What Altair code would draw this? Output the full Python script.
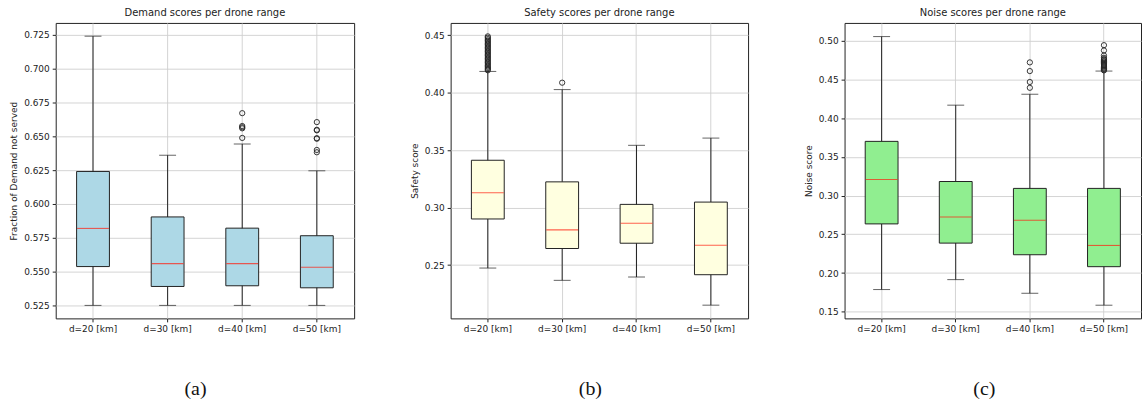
import altair as alt
import pandas as pd

categories = ["d=20 [km]", "d=30 [km]", "d=40 [km]", "d=50 [km]"]

# Demand: fraction of demand not served
demand_low = [0.525, 0.525, 0.525, 0.525]
demand_q1 = [0.5537, 0.5390, 0.5395, 0.5380]
demand_median = [0.5819, 0.5559, 0.5559, 0.5532]
demand_q3 = [0.6240, 0.5904, 0.5821, 0.5765]
demand_high = [0.7240, 0.6360, 0.6443, 0.6245]
demand_outliers = [
    [],
    [],
    [0.6488, 0.6559, 0.6567, 0.6576, 0.6671],
    [0.6382, 0.6399, 0.6482, 0.6486, 0.6544, 0.6548, 0.6605],
]

# Safety score
safety_low = [0.2474, 0.2367, 0.2396, 0.2151]
safety_q1 = [0.2901, 0.2644, 0.2690, 0.2416]
safety_median = [0.3129, 0.2806, 0.2864, 0.2673]
safety_q3 = [0.3412, 0.3224, 0.3028, 0.3048]
safety_high = [0.4185, 0.4027, 0.3542, 0.3605]
safety_outliers = [
    [0.4195, 0.4205, 0.4215, 0.4226, 0.4238, 0.4250, 0.4262, 0.4274, 0.4286,
     0.4298, 0.4310, 0.4322, 0.4334, 0.4346, 0.4358, 0.4370, 0.4382, 0.4394,
     0.4406, 0.4418, 0.4430, 0.4442, 0.4454, 0.4466, 0.4478, 0.4490],
    [0.4087],
    [],
    [],
]

# Noise score
noise_low = [0.1787, 0.1915, 0.1739, 0.1585]
noise_q1 = [0.2634, 0.2386, 0.2236, 0.2082]
noise_median = [0.3207, 0.2724, 0.2681, 0.2356]
noise_q3 = [0.3699, 0.3181, 0.3092, 0.3092]
noise_high = [0.5051, 0.4166, 0.4307, 0.4606]
noise_outliers = [
    [],
    [],
    [0.4390, 0.4465, 0.4606, 0.4718],
    [0.4615, 0.4625, 0.4640, 0.4655, 0.4670, 0.4685, 0.4700, 0.4715, 0.4730,
     0.4745, 0.4760, 0.4777, 0.4807, 0.4872, 0.4940],
]

FONT = "DejaVu Sans"
BOX_WIDTH = 33
CAP_WIDTH = 17


def box_panel(title, ytitle, low, q1, med, q3, high, outliers, fill,
              domain, ticks, fmt, caption, width):
    stats = pd.DataFrame({"cat": categories, "low": low, "q1": q1,
                          "med": med, "q3": q3, "high": high})
    out_rows = [(c, v) for c, vals in zip(categories, outliers) for v in vals]
    out_df = pd.DataFrame(out_rows, columns=["cat", "val"])

    x = alt.X(
        "cat:N", sort=categories, title=caption,
        scale=alt.Scale(paddingInner=0, paddingOuter=0),
        axis=alt.Axis(labelAngle=0, bandPosition=0.5, grid=True,
                      gridColor="#cfcfcf", gridWidth=0.9,
                      tickColor="#222", tickSize=3.5, labelPadding=3,
                      labelFont=FONT, labelFontSize=9, labelColor="#222",
                      domain=False,
                      titleFont="Liberation Serif", titleFontSize=20,
                      titleFontWeight="normal", titleColor="#111",
                      titleX=140, titleY=61, titleAlign="center",
                      titleBaseline="top", titleAnchor=None),
    )
    yscale = alt.Scale(domain=domain, nice=False, zero=False)
    yaxis = alt.Axis(values=ticks, format=fmt, grid=True, labelOverlap=False,
                     tickCount=len(ticks),
                     gridColor="#cfcfcf", gridWidth=0.9,
                     tickColor="#222", tickSize=3.5, labelPadding=3,
                     labelFont=FONT, labelFontSize=9, labelColor="#222",
                     domain=False, title=ytitle, titleFont=FONT,
                     titleFontSize=9, titleFontWeight="normal",
                     titleColor="#222", titlePadding=5)

    base = alt.Chart(stats)
    whisker = base.mark_rule(color="#222", strokeWidth=1).encode(
        x=x, y=alt.Y("low:Q", scale=yscale, axis=yaxis), y2="high:Q")
    caps_low = base.mark_tick(color="#222", size=CAP_WIDTH, thickness=1).encode(
        x=x, y=alt.Y("low:Q", axis=yaxis))
    caps_high = base.mark_tick(color="#222", size=CAP_WIDTH, thickness=1).encode(
        x=x, y=alt.Y("high:Q", axis=yaxis))
    box = base.mark_bar(size=BOX_WIDTH, fill=fill, stroke="#222",
                        strokeWidth=1).encode(
        x=x, y=alt.Y("q1:Q", axis=yaxis), y2="q3:Q")
    median = base.mark_tick(color="#ff2010", size=BOX_WIDTH - 1,
                            thickness=1.1).encode(
        x=x, y=alt.Y("med:Q", axis=yaxis))
    fliers = alt.Chart(out_df).mark_point(
        shape="circle", filled=False, stroke="#222", strokeWidth=0.9,
        size=28, opacity=1).encode(x=x, y=alt.Y("val:Q", axis=yaxis))

    return alt.layer(whisker, box, median, caps_low, caps_high, fliers).properties(
        width=width, height=297,
        title=alt.TitleParams(title, font=FONT, fontSize=10,
                              fontWeight="normal", color="#222", offset=5),
    )


panel_a = box_panel("Demand scores per drone range", "Fraction of Demand not served",
                    demand_low, demand_q1, demand_median, demand_q3, demand_high,
                    demand_outliers, "#ADD8E6", [0.5154, 0.7338],
                    [0.525, 0.55, 0.575, 0.6, 0.625, 0.65, 0.675, 0.7, 0.725],
                    ".3f", "(a)", 300)
panel_b = box_panel("Safety scores per drone range", "Safety score",
                    safety_low, safety_q1, safety_median, safety_q3, safety_high,
                    safety_outliers, "#FFFFE0", [0.2036, 0.4607],
                    [0.25, 0.30, 0.35, 0.40, 0.45], ".2f", "(b)", 299)
panel_c = box_panel("Noise scores per drone range", "Noise score",
                    noise_low, noise_q1, noise_median, noise_q3, noise_high,
                    noise_outliers, "#90EE90", [0.1415, 0.5227],
                    [0.15, 0.20, 0.25, 0.30, 0.35, 0.40, 0.45, 0.50],
                    ".2f", "(c)", 298)

chart = alt.hconcat(panel_a, panel_b, panel_c, spacing=54).properties(
    padding={"left": 9, "top": 6, "right": 0, "bottom": 0},
    background="white",
).configure_view(
    stroke="#222", strokeWidth=1
).configure_axisY(labelOverlap=False)

chart.save("out.html", embed_options={"renderer": "svg", "actions": False})
